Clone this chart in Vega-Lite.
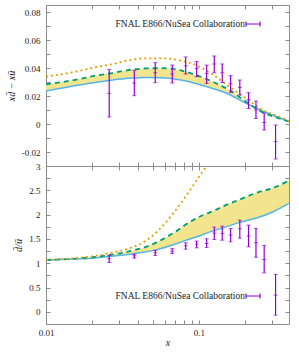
{
  "$schema": "https://vega.github.io/schema/vega-lite/v6.json",
  "padding": {"left": 5, "top": 4, "right": 5, "bottom": 5},
  "spacing": 0,
  "bounds": "flush",
  "datasets": {
    "topc": [
      {"x": 0.01, "blue": 0.0236, "green": 0.0283, "orange": 0.0338},
      {"x": 0.0165, "blue": 0.0279, "green": 0.0321, "orange": 0.0379},
      {"x": 0.0209, "blue": 0.0297, "green": 0.0345, "orange": 0.0405},
      {"x": 0.0273, "blue": 0.0314, "green": 0.0364, "orange": 0.0428},
      {"x": 0.0345, "blue": 0.0326, "green": 0.0385, "orange": 0.0455},
      {"x": 0.0451, "blue": 0.0333, "green": 0.0397, "orange": 0.0469},
      {"x": 0.0579, "blue": 0.0331, "green": 0.0399, "orange": 0.0469},
      {"x": 0.0744, "blue": 0.0316, "green": 0.0385, "orange": 0.0455},
      {"x": 0.0955, "blue": 0.029, "green": 0.035, "orange": 0.0421},
      {"x": 0.1229, "blue": 0.0254, "green": 0.0302, "orange": 0.0354},
      {"x": 0.158, "blue": 0.0211, "green": 0.0243, "orange": 0.0266},
      {"x": 0.203, "blue": 0.0147, "green": 0.0159, "orange": 0.0183},
      {"x": 0.261, "blue": 0.0093, "green": 0.0083, "orange": 0.01},
      {"x": 0.335, "blue": 0.0045, "green": 0.004, "orange": 0.0052},
      {"x": 0.388, "blue": 0.0018, "green": 0.0018, "orange": 0.0022}
    ],
    "topd": [
      {"x": 0.0259, "y": 0.0219, "lo": 0.005, "hi": 0.039},
      {"x": 0.0378, "y": 0.0293, "lo": 0.0202, "hi": 0.0383},
      {"x": 0.0518, "y": 0.0366, "lo": 0.0295, "hi": 0.0438},
      {"x": 0.0669, "y": 0.0357, "lo": 0.0293, "hi": 0.0421},
      {"x": 0.0819, "y": 0.0416, "lo": 0.0357, "hi": 0.0479},
      {"x": 0.0966, "y": 0.0397, "lo": 0.0338, "hi": 0.0447},
      {"x": 0.1123, "y": 0.0361, "lo": 0.029, "hi": 0.0421},
      {"x": 0.126, "y": 0.0429, "lo": 0.0366, "hi": 0.0486},
      {"x": 0.142, "y": 0.0366, "lo": 0.0297, "hi": 0.0429},
      {"x": 0.161, "y": 0.0288, "lo": 0.0226, "hi": 0.0345},
      {"x": 0.185, "y": 0.0261, "lo": 0.0207, "hi": 0.0314},
      {"x": 0.211, "y": 0.0174, "lo": 0.0111, "hi": 0.0224},
      {"x": 0.236, "y": 0.01, "lo": 0.004, "hi": 0.0164},
      {"x": 0.267, "y": 0.0011, "lo": -0.0043, "hi": 0.0079},
      {"x": 0.317, "y": -0.0126, "lo": -0.025, "hi": -0.0007}
    ],
    "botc": [
      {"x": 0.01, "blue": 1.064, "green": 1.068, "orange": 1.07},
      {"x": 0.0165, "blue": 1.09, "green": 1.1, "orange": 1.11},
      {"x": 0.0209, "blue": 1.11, "green": 1.13, "orange": 1.15},
      {"x": 0.0262, "blue": 1.14, "green": 1.17, "orange": 1.21},
      {"x": 0.0345, "blue": 1.18, "green": 1.24, "orange": 1.3},
      {"x": 0.0444, "blue": 1.23, "green": 1.33, "orange": 1.45},
      {"x": 0.0529, "blue": 1.28, "green": 1.43, "orange": 1.64},
      {"x": 0.068, "blue": 1.38, "green": 1.62, "orange": 2.03},
      {"x": 0.0873, "blue": 1.5, "green": 1.85, "orange": 2.5},
      {"x": 0.1, "blue": 1.56, "green": 1.95, "orange": 2.78},
      {"x": 0.1123, "blue": 1.62, "green": 2.02, "orange": 3.0},
      {"x": 0.125, "blue": 1.67, "green": 2.08, "orange": 3.25},
      {"x": 0.144, "blue": 1.73, "green": 2.17, "orange": null},
      {"x": 0.185, "blue": 1.84, "green": 2.31, "orange": null},
      {"x": 0.238, "blue": 1.93, "green": 2.45, "orange": null},
      {"x": 0.306, "blue": 2.06, "green": 2.55, "orange": null},
      {"x": 0.388, "blue": 2.23, "green": 2.7, "orange": null}
    ],
    "botd": [
      {"x": 0.0259, "y": 1.091, "lo": 1.016, "hi": 1.16},
      {"x": 0.0378, "y": 1.152, "lo": 1.105, "hi": 1.187},
      {"x": 0.0518, "y": 1.214, "lo": 1.16, "hi": 1.263},
      {"x": 0.0669, "y": 1.249, "lo": 1.202, "hi": 1.305},
      {"x": 0.0819, "y": 1.358, "lo": 1.29, "hi": 1.42},
      {"x": 0.0966, "y": 1.393, "lo": 1.317, "hi": 1.455},
      {"x": 0.1123, "y": 1.407, "lo": 1.325, "hi": 1.502},
      {"x": 0.126, "y": 1.619, "lo": 1.49, "hi": 1.743},
      {"x": 0.142, "y": 1.613, "lo": 1.475, "hi": 1.763},
      {"x": 0.161, "y": 1.578, "lo": 1.44, "hi": 1.716},
      {"x": 0.185, "y": 1.708, "lo": 1.516, "hi": 1.887},
      {"x": 0.211, "y": 1.558, "lo": 1.337, "hi": 1.784},
      {"x": 0.236, "y": 1.42, "lo": 1.125, "hi": 1.716},
      {"x": 0.267, "y": 1.078, "lo": 0.802, "hi": 1.366},
      {"x": 0.317, "y": 0.344, "lo": -0.068, "hi": 0.77}
    ]
  },
  "vconcat": [
    {
      "width": 243,
      "height": 161,
      "layer": [
        {
          "data": {"name": "topc"},
          "mark": {"type": "area", "color": "#F2E58E", "interpolate": "monotone"},
          "encoding": {
            "x": {"field": "x", "type": "quantitative", "scale": {"type": "log", "domain": [0.01, 0.388], "nice": false},
              "axis": {"orient": "bottom", "values": [0.01,0.02,0.03,0.04,0.05,0.06,0.07,0.08,0.09,0.1,0.2,0.3], "labels": false, "title": null}},
            "y": {"field": "blue", "type": "quantitative", "scale": {"domain": [-0.03, 0.085], "nice": false, "zero": false},
              "axis": {"orient": "left", "values": [-0.02,-0.01,0,0.01,0.02,0.03,0.04,0.05,0.06,0.07,0.08], "labelExpr": "round(datum.value*100) % 2 == 0 ? '' + datum.value : ''", "title": "xd̄ − xū", "titlePadding": 5}},
            "y2": {"field": "green"}
          }
        },
        {
          "data": {"name": "topc"},
          "mark": {"type": "line", "color": "#56B4E9", "strokeWidth": 1.5, "interpolate": "monotone"},
          "encoding": {
            "x": {"field": "x", "type": "quantitative", "scale": {"type": "log", "domain": [0.01, 0.388], "nice": false},
              "axis": {"orient": "top", "values": [0.01,0.02,0.03,0.04,0.05,0.06,0.07,0.08,0.09,0.1,0.2,0.3], "labels": false, "title": null}},
            "y": {"field": "blue", "type": "quantitative", "scale": {"domain": [-0.03, 0.085], "nice": false, "zero": false},
              "axis": {"orient": "right", "values": [-0.02,-0.01,0,0.01,0.02,0.03,0.04,0.05,0.06,0.07,0.08], "labels": false, "title": null}}
          }
        },
        {
          "data": {"name": "topc"},
          "mark": {"type": "line", "color": "#009E73", "strokeWidth": 1.8, "strokeDash": [5, 4], "interpolate": "monotone"},
          "encoding": {
            "x": {"field": "x", "type": "quantitative", "scale": {"type": "log", "domain": [0.01, 0.388], "nice": false}, "axis": null},
            "y": {"field": "green", "type": "quantitative", "scale": {"domain": [-0.03, 0.085], "nice": false, "zero": false}, "axis": null}
          }
        },
        {
          "data": {"name": "topc"},
          "mark": {"type": "line", "color": "#E69F00", "strokeWidth": 1.8, "strokeDash": [2, 3], "interpolate": "monotone"},
          "encoding": {
            "x": {"field": "x", "type": "quantitative", "scale": {"type": "log", "domain": [0.01, 0.388], "nice": false}, "axis": null},
            "y": {"field": "orange", "type": "quantitative", "scale": {"domain": [-0.03, 0.085], "nice": false, "zero": false}, "axis": null}
          }
        },
        {
          "data": {"name": "topd"},
          "mark": {"type": "rule", "strokeWidth": 1.2},
          "encoding": {
            "x": {"field": "x", "type": "quantitative", "scale": {"type": "log", "domain": [0.01, 0.388], "nice": false}, "axis": null},
            "y": {"field": "lo", "type": "quantitative", "scale": {"domain": [-0.03, 0.085], "nice": false, "zero": false}, "axis": null},
            "y2": {"field": "hi"},
            "color": {"datum": "FNAL E866/NuSea Collaboration", "type": "nominal", "scale": {"range": ["#9400D3"]},
              "legend": {"orient": "none", "legendX": 199, "legendY": 11, "title": null, "padding": 0, "symbolType": "M-1,0H1M-1,-0.35V0.35M1,-0.35V0.35", "symbolSize": 196, "symbolStrokeWidth": 1.2, "symbolStrokeColor": "#9400D3", "labelAlign": "right", "labelOffset": -16, "labelFont": "Liberation Serif", "labelFontSize": 9.5, "labelColor": "#222", "labelLimit": 300}}
          }
        },
        {
          "data": {"name": "topd"},
          "mark": {"type": "tick", "orient": "horizontal", "color": "#9400D3", "size": 4, "thickness": 1},
          "encoding": {
            "x": {"field": "x", "type": "quantitative", "scale": {"type": "log", "domain": [0.01, 0.388], "nice": false}, "axis": null},
            "y": {"field": "lo", "type": "quantitative", "scale": {"domain": [-0.03, 0.085], "nice": false, "zero": false}, "axis": null}
          }
        },
        {
          "data": {"name": "topd"},
          "mark": {"type": "tick", "orient": "horizontal", "color": "#9400D3", "size": 4, "thickness": 1},
          "encoding": {
            "x": {"field": "x", "type": "quantitative", "scale": {"type": "log", "domain": [0.01, 0.388], "nice": false}, "axis": null},
            "y": {"field": "hi", "type": "quantitative", "scale": {"domain": [-0.03, 0.085], "nice": false, "zero": false}, "axis": null}
          }
        },
        {
          "data": {"name": "topd"},
          "mark": {"type": "tick", "orient": "horizontal", "color": "#9400D3", "size": 4, "thickness": 1},
          "encoding": {
            "x": {"field": "x", "type": "quantitative", "scale": {"type": "log", "domain": [0.01, 0.388], "nice": false}, "axis": null},
            "y": {"field": "y", "type": "quantitative", "scale": {"domain": [-0.03, 0.085], "nice": false, "zero": false}, "axis": null}
          }
        }
      ],
      "resolve": {"axis": {"x": "independent", "y": "independent"}}
    },
    {
      "width": 243,
      "height": 158,
      "layer": [
        {
          "data": {"name": "botc"},
          "mark": {"type": "area", "color": "#F2E58E", "interpolate": "monotone"},
          "encoding": {
            "x": {"field": "x", "type": "quantitative", "scale": {"type": "log", "domain": [0.01, 0.388], "nice": false},
              "axis": {"orient": "bottom", "values": [0.01,0.02,0.03,0.04,0.05,0.06,0.07,0.08,0.09,0.1,0.2,0.3], "labelExpr": "datum.value == 0.01 || datum.value == 0.1 ? '' + datum.value : ''", "labelFlush": false, "labelPadding": 8.5, "title": "x", "titlePadding": 0}},
            "y": {"field": "blue", "type": "quantitative", "scale": {"domain": [-0.25, 3], "nice": false, "zero": false},
              "axis": {"orient": "left", "values": [0,0.25,0.5,0.75,1,1.25,1.5,1.75,2,2.25,2.5,2.75,3], "labelExpr": "(datum.value*2) % 1 == 0 ? '' + datum.value : ''", "title": "d̄/ū", "titlePadding": 5}},
            "y2": {"field": "green"}
          }
        },
        {
          "data": {"name": "botc"},
          "mark": {"type": "line", "color": "#56B4E9", "strokeWidth": 1.5, "interpolate": "monotone"},
          "encoding": {
            "x": {"field": "x", "type": "quantitative", "scale": {"type": "log", "domain": [0.01, 0.388], "nice": false},
              "axis": {"orient": "top", "values": [0.01,0.02,0.03,0.04,0.05,0.06,0.07,0.08,0.09,0.1,0.2,0.3], "labels": false, "title": null}},
            "y": {"field": "blue", "type": "quantitative", "scale": {"domain": [-0.25, 3], "nice": false, "zero": false},
              "axis": {"orient": "right", "values": [0,0.25,0.5,0.75,1,1.25,1.5,1.75,2,2.25,2.5,2.75,3], "labels": false, "title": null}}
          }
        },
        {
          "data": {"name": "botc"},
          "mark": {"type": "line", "color": "#009E73", "strokeWidth": 1.8, "strokeDash": [5, 4], "interpolate": "monotone"},
          "encoding": {
            "x": {"field": "x", "type": "quantitative", "scale": {"type": "log", "domain": [0.01, 0.388], "nice": false}, "axis": null},
            "y": {"field": "green", "type": "quantitative", "scale": {"domain": [-0.25, 3], "nice": false, "zero": false}, "axis": null}
          }
        },
        {
          "data": {"name": "botc"},
          "mark": {"type": "line", "color": "#E69F00", "strokeWidth": 1.8, "strokeDash": [2, 3], "interpolate": "monotone", "clip": true},
          "encoding": {
            "x": {"field": "x", "type": "quantitative", "scale": {"type": "log", "domain": [0.01, 0.388], "nice": false}, "axis": null},
            "y": {"field": "orange", "type": "quantitative", "scale": {"domain": [-0.25, 3], "nice": false, "zero": false}, "axis": null}
          }
        },
        {
          "data": {"name": "botd"},
          "mark": {"type": "rule", "strokeWidth": 1.2},
          "encoding": {
            "x": {"field": "x", "type": "quantitative", "scale": {"type": "log", "domain": [0.01, 0.388], "nice": false}, "axis": null},
            "y": {"field": "lo", "type": "quantitative", "scale": {"domain": [-0.25, 3], "nice": false, "zero": false}, "axis": null},
            "y2": {"field": "hi"},
            "color": {"datum": "FNAL E866/NuSea Collaboration", "type": "nominal", "scale": {"range": ["#9400D3"]},
              "legend": {"orient": "none", "legendX": 199, "legendY": 122, "title": null, "padding": 0, "symbolType": "M-1,0H1M-1,-0.35V0.35M1,-0.35V0.35", "symbolSize": 196, "symbolStrokeWidth": 1.2, "symbolStrokeColor": "#9400D3", "labelAlign": "right", "labelOffset": -16, "labelFont": "Liberation Serif", "labelFontSize": 9.5, "labelColor": "#222", "labelLimit": 300}}
          }
        },
        {
          "data": {"name": "botd"},
          "mark": {"type": "tick", "orient": "horizontal", "color": "#9400D3", "size": 4, "thickness": 1},
          "encoding": {
            "x": {"field": "x", "type": "quantitative", "scale": {"type": "log", "domain": [0.01, 0.388], "nice": false}, "axis": null},
            "y": {"field": "lo", "type": "quantitative", "scale": {"domain": [-0.25, 3], "nice": false, "zero": false}, "axis": null}
          }
        },
        {
          "data": {"name": "botd"},
          "mark": {"type": "tick", "orient": "horizontal", "color": "#9400D3", "size": 4, "thickness": 1},
          "encoding": {
            "x": {"field": "x", "type": "quantitative", "scale": {"type": "log", "domain": [0.01, 0.388], "nice": false}, "axis": null},
            "y": {"field": "hi", "type": "quantitative", "scale": {"domain": [-0.25, 3], "nice": false, "zero": false}, "axis": null}
          }
        },
        {
          "data": {"name": "botd"},
          "mark": {"type": "tick", "orient": "horizontal", "color": "#9400D3", "size": 4, "thickness": 1},
          "encoding": {
            "x": {"field": "x", "type": "quantitative", "scale": {"type": "log", "domain": [0.01, 0.388], "nice": false}, "axis": null},
            "y": {"field": "y", "type": "quantitative", "scale": {"domain": [-0.25, 3], "nice": false, "zero": false}, "axis": null}
          }
        }
      ],
      "resolve": {"axis": {"x": "independent", "y": "independent"}}
    }
  ],
  "resolve": {"scale": {"color": "independent"}, "legend": {"color": "independent"}},
  "config": {
    "view": {"stroke": "#8c8c8c", "strokeWidth": 1},
    "axis": {
      "domain": false, "grid": false, "tickColor": "#8c8c8c", "tickSize": -4, "labelPadding": 10,
      "labelFont": "Liberation Serif", "labelFontSize": 9, "labelColor": "#222",
      "titleFont": "Liberation Serif", "titleFontStyle": "italic", "titleFontWeight": "normal", "titleFontSize": 10, "titleColor": "#222"
    }
  }
}
